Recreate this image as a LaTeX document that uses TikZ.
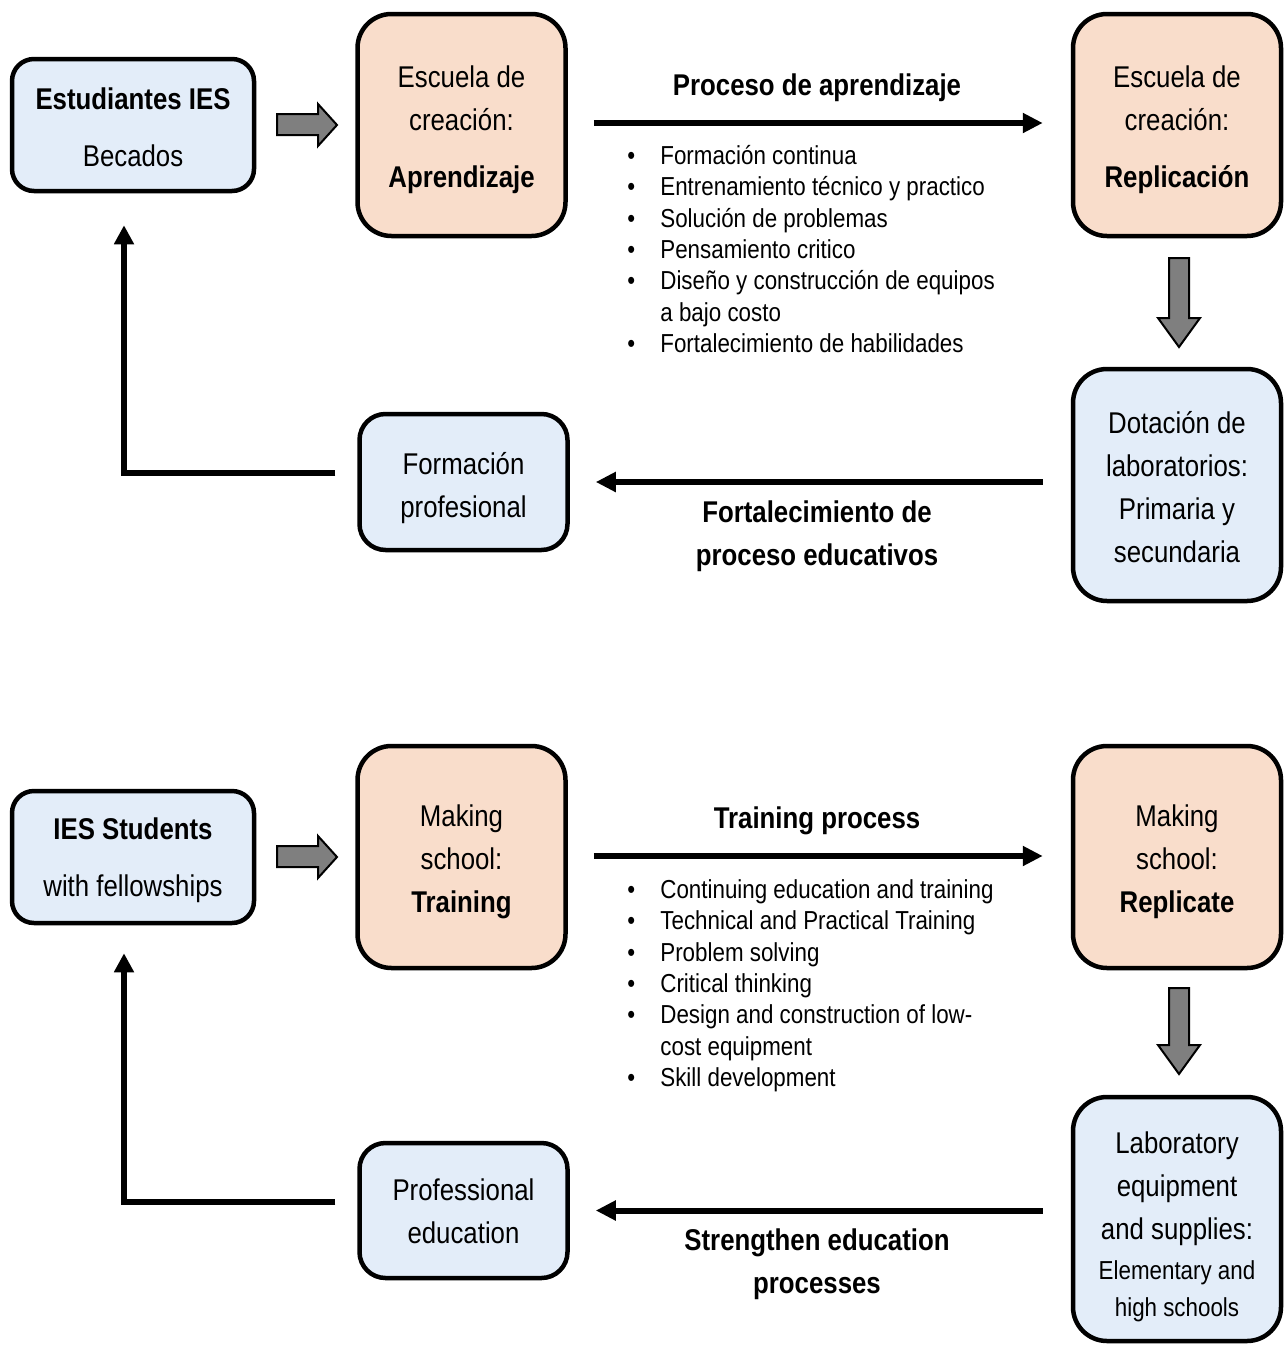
\documentclass[tikz,border=0pt]{standalone}
\usepackage{fontspec}
\setmainfont{Liberation Sans}[FakeStretch=0.86]
\usetikzlibrary{arrows.meta,calc}
\definecolor{boxblue}{HTML}{E3EDF9}
\definecolor{boxpeach}{HTML}{F9DDCB}
\definecolor{blockgray}{HTML}{7F7F7F}
\begin{document}
\begin{tikzpicture}[x=0.5pt,y=-0.5pt,
  dbox/.style={draw=black, line width=2.25pt, inner sep=0pt},
  bluebox/.style={dbox, fill=boxblue},
  peachbox/.style={dbox, fill=boxpeach},
  boxtext/.style={align=center, inner sep=0pt, text=black, font=\fontsize{15}{21.5}\selectfont},
  smallbox/.style={minimum width=121pt, minimum height=66pt, rounded corners=11pt},
  tallbox/.style={minimum width=104pt, minimum height=111pt, rounded corners=17pt},
  midbox/.style={minimum width=104pt, minimum height=68pt, rounded corners=13pt},
  flowarrow/.style={line width=3pt, -{Triangle[length=10pt,width=9.5pt]}},
  elbowarrow/.style={line width=3pt, -{Triangle[length=9.5pt,width=9.5pt]}},
  lbltext/.style={font=\fontsize{15}{21.5}\selectfont\bfseries, align=center, inner sep=0pt},
  bulletlist/.style={anchor=north west, inner sep=0pt, font=\fontsize{13}{15.7}\selectfont},
  blockarrow/.style={fill=blockgray, draw=black, line width=1pt, line join=miter},
]
\useasboundingbox (0,0) rectangle (1284,1345);

% ================= TOP (Spanish) =================
\node[bluebox, smallbox] (est) at (133,125) {};
\node[boxtext] (est-t) at ([yshift=-1pt]est.center) {\textbf{Estudiantes IES}\\[7pt]Becados};
\node[peachbox, tallbox] (esc) at (461.5,125) {};
\node[boxtext] (esc-t) at ([yshift=-2.5pt]esc.center) {Escuela de\\creación:\\[7pt]\textbf{Aprendizaje}};
\node[peachbox, tallbox] (rep) at (1177,125) {};
\node[boxtext] (rep-t) at ([yshift=-2.5pt]rep.center) {Escuela de\\creación:\\[7pt]\textbf{Replicación}};
\node[bluebox, tallbox, minimum height=116pt] (dot) at (1177,485) {};
\node[boxtext] (dot-t) at ([yshift=-1pt]dot.center) {Dotación de\\laboratorios:\\Primaria y\\secundaria};
\node[bluebox, midbox] (for) at (463.5,482) {};
\node[boxtext] (for-t) at ([yshift=-3pt]for.center) {Formación\\profesional};

\filldraw[blockarrow] (277,114) -- (318,114) -- (318,104) -- (337,125) -- (318,146) -- (318,135) -- (277,135) -- cycle;
\filldraw[blockarrow] (1169,258) -- (1189,258) -- (1189,318) -- (1200,318) -- (1179,347) -- (1158,318) -- (1169,318) -- cycle;

\draw[flowarrow, shorten <=13pt, shorten >=14pt] ([yshift=1pt]esc.east) -- ([yshift=1pt]rep.west);
\draw[flowarrow, shorten <=14pt, shorten >=13pt] (dot.west |- for.east) -- (for.east);
\draw[elbowarrow] ([xshift=-11pt,yshift=4.5pt]for.west) -| ([xshift=-4.5pt,yshift=-16pt]est.south);

\node[lbltext] (l1) at (817,88) {Proceso de aprendizaje};
\node[lbltext] (l2) at (817,536) {Fortalecimiento de\\proceso educativos};

\node[bulletlist] (list1) at (627,142) {\begin{tabular}{@{}p{16.5pt}@{}l@{}}
•&Formación continua\\
•&Entrenamiento técnico y practico\\
•&Solución de problemas\\
•&Pensamiento critico\\
•&Diseño y construcción de equipos\\
 &a bajo costo\\
•&Fortalecimiento de habilidades
\end{tabular}};

% ================= BOTTOM (English) =================
\node[bluebox, smallbox] (est2) at (133,857) {};
\node[boxtext] (est2-t) at ([yshift=-1.75pt]est2.center) {\textbf{IES Students}\\[7pt]with fellowships};
\node[peachbox, tallbox] (esc2) at (461.5,857) {};
\node[boxtext] (esc2-t) at ([yshift=-2.5pt]esc2.center) {Making\\school:\\\textbf{Training}};
\node[peachbox, tallbox] (rep2) at (1177,857) {};
\node[boxtext] (rep2-t) at ([yshift=-2.5pt]rep2.center) {Making\\school:\\\textbf{Replicate}};
\node[bluebox, tallbox, minimum height=122pt] (lab) at (1177,1219) {};
\node[boxtext] (lab-t) at ([yshift=-4pt]lab.center) {Laboratory\\equipment\\and supplies:\\[-1.5pt]{\fontsize{13}{16}\selectfont Elementary and}\\[-3pt]{\fontsize{13}{16}\selectfont high schools}};
\node[bluebox, midbox, minimum height=67.5pt] (prof) at (463.5,1210.5) {};
\node[boxtext] (prof-t) at ([yshift=-0.5pt]prof.center) {Professional\\education};

\filldraw[blockarrow] (277,846) -- (318,846) -- (318,836) -- (337,857) -- (318,878) -- (318,867) -- (277,867) -- cycle;
\filldraw[blockarrow] (1169,988) -- (1189,988) -- (1189,1045) -- (1200,1045) -- (1179,1074) -- (1158,1045) -- (1169,1045) -- cycle;

\draw[flowarrow, shorten <=13pt, shorten >=14pt] ([yshift=0.5pt]esc2.east) -- ([yshift=0.5pt]rep2.west);
\draw[flowarrow, shorten <=14pt, shorten >=13pt] (lab.west |- prof.east) -- (prof.east);
\draw[elbowarrow] ([xshift=-11pt,yshift=4.25pt]prof.west) -| ([xshift=-4.5pt,yshift=-14pt]est2.south);

\node[lbltext] (l3) at (817,821) {Training process};
\node[lbltext] (l4) at (817,1264) {Strengthen education\\processes};

\node[bulletlist] (list2) at (627,876) {\begin{tabular}{@{}p{16.5pt}@{}l@{}}
•&Continuing education and training\\
•&Technical and Practical Training\\
•&Problem solving\\
•&Critical thinking\\
•&Design and construction of low-\\
 &cost equipment\\
•&Skill development
\end{tabular}};
\end{tikzpicture}
\end{document}
